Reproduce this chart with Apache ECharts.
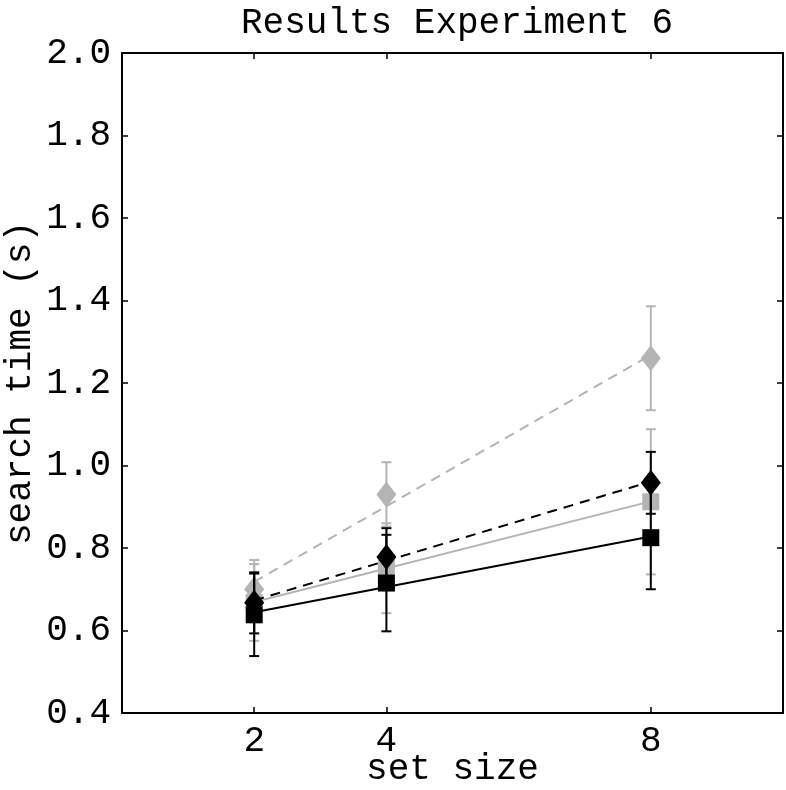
<!DOCTYPE html>
<html>
<head>
<meta charset="utf-8">
<script src="https://cdn.jsdelivr.net/npm/echarts@6/dist/echarts.min.js"></script>
<style>
html,body{margin:0;padding:0;background:#fff;}
#chart{width:786px;height:790px;}
</style>
</head>
<body>
<div id="chart"></div>
<script>
// ---- data ----
var setSizes = [2, 4, 8];
var xTicks = [2, 4, 8];
var yTicks = [0.4, 0.6, 0.8, 1.0, 1.2, 1.4, 1.6, 1.8, 2.0];

var grayDiamond     = [0.700, 0.930, 1.260];
var grayDiamondErr  = [0.071, 0.078, 0.126];
var graySquare      = [0.668, 0.751, 0.912];
var graySquareErr   = [0.093, 0.109, 0.176];
var blackDiamond    = [0.667, 0.778, 0.958];
var blackDiamondErr = [0.074, 0.070, 0.075];
var blackSquare     = [0.638, 0.715, 0.825];
var blackSquareErr  = [0.100, 0.117, 0.125];

// fitted lines, read at set size 2 and 8
var fitX = [2, 8];
var grayDiamondFit  = [0.718, 1.268];
var graySquareFit   = [0.669, 0.913];
var blackDiamondFit = [0.673, 0.961];
var blackSquareFit  = [0.644, 0.828];

var GRAY = '#b4b4b4';
var BLACK = '#000000';
var FONT = '"Liberation Mono", "DejaVu Sans Mono", monospace';

function pts(xs, ys) { return xs.map(function (x, i) { return [x, ys[i]]; }); }
function errData(xs, m, e) { return xs.map(function (x, i) { return [x, m[i] - e[i], m[i] + e[i]]; }); }

function errSeries(xs, m, e, color, z) {
  return {
    type: 'custom',
    z: z,
    data: errData(xs, m, e),
    encode: { x: 0, y: [1, 2] },
    renderItem: function (params, api) {
      var x = api.value(0);
      var lo = api.coord([x, api.value(1)]);
      var hi = api.coord([x, api.value(2)]);
      var hw = 5;
      var st = { stroke: color, lineWidth: 2 };
      return {
        type: 'group',
        children: [
          { type: 'line', shape: { x1: lo[0], y1: lo[1], x2: hi[0], y2: hi[1] }, style: st },
          { type: 'line', shape: { x1: lo[0] - hw, y1: lo[1], x2: lo[0] + hw, y2: lo[1] }, style: st },
          { type: 'line', shape: { x1: hi[0] - hw, y1: hi[1], x2: hi[0] + hw, y2: hi[1] }, style: st }
        ]
      };
    },
    silent: true
  };
}

function fitSeries(ys, color, dashed, z) {
  return {
    type: 'line',
    z: z,
    data: pts(fitX, ys),
    symbol: 'none',
    lineStyle: { color: color, width: 2, type: dashed ? [10, 7] : 'solid' },
    silent: true
  };
}

function markSeries(ys, color, symbol, size, z) {
  return {
    type: 'scatter',
    z: z,
    data: pts(setSizes, ys),
    symbol: symbol,
    symbolSize: size,
    itemStyle: { color: color, opacity: 1 },
    silent: true
  };
}

var chart = echarts.init(document.getElementById('chart'), null, { renderer: 'canvas' });

var axisCommon = {
  axisLine: { show: true, onZero: false, lineStyle: { color: '#000', width: 2 } },
  axisTick: { show: true, inside: true, length: 6, lineStyle: { color: '#000', width: 1.5 } },
  splitLine: { show: false }
};

chart.setOption({
  animation: false,
  backgroundColor: '#fff',
  title: {
    text: 'Results Experiment 6',
    left: 452, textAlign: 'center', top: 0,
    textStyle: { fontFamily: FONT, fontSize: 36, fontWeight: 'normal', color: '#000' }
  },
  grid: { left: 122, right: 3, top: 53, bottom: 77, containLabel: false, outerBoundsMode: 'none' },
  xAxis: [
    Object.assign({}, axisCommon, {
      type: 'value', position: 'bottom', min: 0, max: 10,
      name: 'set size', nameLocation: 'middle', nameGap: 38, nameMoveOverlap: false,
      nameTextStyle: { fontFamily: FONT, fontSize: 36, color: '#000' },
      axisTick: Object.assign({}, axisCommon.axisTick, { customValues: xTicks }),
      axisLabel: { customValues: xTicks, fontFamily: FONT, fontSize: 36, color: '#000', margin: 10 }
    }),
    Object.assign({}, axisCommon, {
      type: 'value', position: 'top', min: 0, max: 10,
      axisTick: Object.assign({}, axisCommon.axisTick, { customValues: xTicks }),
      axisLabel: { show: false }
    })
  ],
  yAxis: [
    Object.assign({}, axisCommon, {
      type: 'value', position: 'left', min: 0.4, max: 2.0, interval: 0.2,
      name: 'search time (s)', nameLocation: 'middle', nameGap: 84, nameMoveOverlap: false,
      nameTextStyle: { fontFamily: FONT, fontSize: 36, color: '#000' },
      axisTick: Object.assign({}, axisCommon.axisTick, { customValues: yTicks }),
      axisLabel: {
        customValues: yTicks, fontFamily: FONT, fontSize: 36, color: '#000', margin: 11,
        formatter: function (v) { return v.toFixed(1); }
      }
    }),
    Object.assign({}, axisCommon, {
      type: 'value', position: 'right', min: 0.4, max: 2.0, interval: 0.2,
      axisTick: Object.assign({}, axisCommon.axisTick, { customValues: yTicks }),
      axisLabel: { show: false }
    })
  ],
  series: [
    errSeries(setSizes, grayDiamond, grayDiamondErr, GRAY, 1),
    errSeries(setSizes, graySquare, graySquareErr, GRAY, 1),
    fitSeries(grayDiamondFit, GRAY, true, 2),
    fitSeries(graySquareFit, GRAY, false, 2),
    markSeries(grayDiamond, GRAY, 'diamond', [20, 26], 3),
    markSeries(graySquare, GRAY, 'rect', 17, 3),
    errSeries(setSizes, blackDiamond, blackDiamondErr, BLACK, 4),
    errSeries(setSizes, blackSquare, blackSquareErr, BLACK, 4),
    fitSeries(blackDiamondFit, BLACK, true, 5),
    fitSeries(blackSquareFit, BLACK, false, 5),
    markSeries(blackDiamond, BLACK, 'diamond', [20, 26], 6),
    markSeries(blackSquare, BLACK, 'rect', 17, 7)
  ]
});
</script>
</body>
</html>
